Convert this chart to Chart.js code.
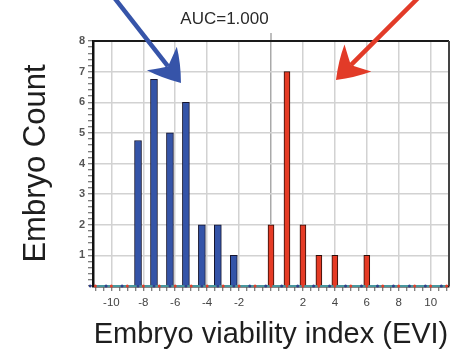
<!DOCTYPE html>
<html>
<head>
<meta charset="utf-8">
<script src="https://cdn.jsdelivr.net/npm/chart.js@4/dist/chart.umd.min.js"></script>
<style>
  html, body { margin: 0; padding: 0; background: #ffffff; overflow: hidden; }
  #wrap { width: 458px; height: 356px; }
  canvas { display: block; }
</style>
</head>
<body>
<div id="wrap"><canvas id="c" width="458" height="356"></canvas></div>
<script>
// Histogram bins of the embryo viability index (EVI)
const eviBins = [-11, -10, -9, -8, -7, -6, -5, -4, -3, -2, -1, 0, 1, 2, 3, 4, 5, 6, 7, 8, 9, 10, 11];
// Non-viable embryos (blue) per bin
const blueCounts = [0, 0, 0, 4.75, 6.75, 5, 6, 2, 2, 1, 0, 0, 0, 0, 0, 0, 0, 0, 0, 0, 0, 0, 0];
// Viable embryos (red) per bin
const redCounts  = [0, 0, 0, 0, 0, 0, 0, 0, 0, 0, 0, 2, 7, 2, 1, 1, 0, 1, 0, 0, 0, 0, 0];
// Labelled ticks
const xTickLabels = [-10, -8, -6, -4, -2, 2, 4, 6, 8, 10];
const yTickLabels = [1, 2, 3, 4, 5, 6, 7, 8];
const aucText = 'AUC=1.000';

// Pointer arrows, in data units (EVI, count)
const pointerArrows = [
  { from: [-10.1, 9.6], to: [-5.64, 6.63], color: '#3654a9' },
  { from: [9.59, 9.6],  to: [4.07, 6.73],  color: '#e23b28' }
];

const X_MIN = -11.15, X_MAX = 11.15;
const BLUE_SHIFT = 0.33; // blue bars sit slightly left of each bin centre

const FONT = "'Liberation Sans', Arial, Helvetica, sans-serif";

const decorations = {
  id: 'decorations',
  beforeDatasetsDraw(chart) {
    const { ctx, chartArea: a, scales } = chart;
    // zero line pokes above the frame
    const x0 = scales.x.getPixelForValue(0);
    ctx.save();
    ctx.strokeStyle = '#a9a9a9';
    ctx.lineWidth = 1.5;
    ctx.beginPath();
    ctx.moveTo(x0, a.top - 8);
    ctx.lineTo(x0, a.top);
    ctx.stroke();
    ctx.restore();
  },
  afterDatasetsDraw(chart) {
    const { ctx, chartArea: a, scales } = chart;
    ctx.save();
    // top and right frame
    ctx.strokeStyle = '#1a1a1a';
    ctx.lineWidth = 2;
    ctx.beginPath();
    ctx.moveTo(a.left, a.top);
    ctx.lineTo(a.right, a.top);
    ctx.stroke();
    ctx.strokeStyle = '#444';
    ctx.beginPath();
    ctx.moveTo(a.right, a.top);
    ctx.lineTo(a.right, a.bottom);
    ctx.stroke();

    // arrows: shaft plus a broad swept-back head
    pointerArrows.forEach(ar => {
      const x1 = scales.x.getPixelForValue(ar.from[0]);
      const y1 = scales.y.getPixelForValue(ar.from[1]);
      const x2 = scales.x.getPixelForValue(ar.to[0]);
      const y2 = scales.y.getPixelForValue(ar.to[1]);
      const len = Math.hypot(x2 - x1, y2 - y1);
      const ux = (x2 - x1) / len, uy = (y2 - y1) / len;
      const px = -uy, py = ux;
      const headLen = 31, halfW = 19, notch = 21;
      const nx = x2 - ux * notch, ny = y2 - uy * notch;
      ctx.strokeStyle = ar.color;
      ctx.fillStyle = ar.color;
      ctx.lineWidth = 4.5;
      ctx.lineCap = 'butt';
      ctx.beginPath();
      ctx.moveTo(x1, y1);
      ctx.lineTo(nx, ny);
      ctx.stroke();
      const bx = x2 - ux * headLen, by = y2 - uy * headLen;
      const lx = bx + px * halfW, ly = by + py * halfW;
      const rx = bx - px * halfW, ry = by - py * halfW;
      // slightly convex flanks, gently concave back
      const fl = 0.5, bulge = 2.5;
      ctx.beginPath();
      ctx.moveTo(x2, y2);
      ctx.quadraticCurveTo(x2 + (lx - x2) * fl + px * bulge, y2 + (ly - y2) * fl + py * bulge, lx, ly);
      ctx.quadraticCurveTo(nx - ux * 3 + px * 6, ny - uy * 3 + py * 6, nx, ny);
      ctx.quadraticCurveTo(nx - ux * 3 - px * 6, ny - uy * 3 - py * 6, rx, ry);
      ctx.quadraticCurveTo(x2 + (rx - x2) * fl - px * bulge, y2 + (ry - y2) * fl - py * bulge, x2, y2);
      ctx.closePath();
      ctx.fill();
    });
    ctx.restore();
  }
};

const xTicksEveryHalf = scale => {
  const t = [];
  for (let i = -22; i <= 22; i++) t.push({ value: i / 2 });
  scale.ticks = t;
};
const yTicksEveryFifth = scale => {
  const t = [];
  for (let i = 0; i <= 40; i++) t.push({ value: Math.round(i * 2) / 10 });
  scale.ticks = t;
};

new Chart(document.getElementById('c'), {
  type: 'bar',
  data: {
    datasets: [
      {
        label: 'Non-viable',
        data: eviBins.map((b, i) => ({ x: b, y: blueCounts[i] })),
        xAxisID: 'xBlue',
        backgroundColor: '#3454a8',
        borderColor: '#14142e',
        borderWidth: 1,
        barThickness: 7,
        grouped: false,
        order: 1
      },
      {
        label: 'Viable',
        data: eviBins.map((b, i) => ({ x: b, y: redCounts[i] })),
        xAxisID: 'x',
        backgroundColor: '#e53b25',
        borderColor: '#2a0e0a',
        borderWidth: 1,
        barThickness: 6,
        grouped: false,
        order: 1
      },
      {
        type: 'line',
        label: 'baseline',
        data: eviBins.map(b => ({ x: b, y: 0 })),
        xAxisID: 'x',
        borderColor: '#5cc6cf',
        borderWidth: 1.5,
        pointRadius: 1.5,
        pointBackgroundColor: '#e0402c',
        pointBorderWidth: 0,
        clip: 4,
        order: 3
      },
      {
        type: 'line',
        label: 'baseline blue',
        data: eviBins.map(b => ({ x: b, y: 0 })),
        xAxisID: 'xBlue',
        showLine: false,
        pointRadius: 1.5,
        pointBackgroundColor: '#2f3f8a',
        pointBorderWidth: 0,
        clip: 4,
        order: 2
      }
    ]
  },
  options: {
    responsive: false,
    animation: false,
    devicePixelRatio: 1,
    layout: { padding: { top: 0, right: 9, bottom: 0, left: 0 } },
    plugins: {
      legend: { display: false },
      tooltip: { enabled: false },
      title: {
        display: true,
        text: aucText,
        color: '#2a2a2a',
        font: { family: FONT, size: 17, weight: 'normal', lineHeight: 1.2 },
        padding: { top: 9, bottom: 11.6 }
      }
    },
    scales: {
      x: {
        type: 'linear',
        position: 'bottom',
        min: X_MIN,
        max: X_MAX,
        offset: false,
        afterBuildTicks: xTicksEveryHalf,
        afterFit: s => { s.height = 70; },
        border: { display: true, color: '#111', width: 2.5 },
        grid: {
          offset: false,
          lineWidth: 1.5,
          color: c => {
            const v = c.tick ? c.tick.value : null;
            if (v === 0) return '#a9a9a9';
            return xTickLabels.includes(v) ? '#d2d2d2' : 'rgba(0,0,0,0)';
          },
          drawTicks: true,
          tickLength: 5,
          tickWidth: 1,
          tickColor: '#555'
        },
        ticks: {
          autoSkip: false,
          maxRotation: 0,
          padding: 5,
          color: '#444',
          font: { family: FONT, size: 11.5 },
          callback: v => (xTickLabels.includes(v) ? String(v) : '')
        },
        title: {
          display: true,
          text: 'Embryo viability index (EVI)',
          color: '#1e1e1e',
          font: { family: FONT, size: 29, lineHeight: 1 },
          padding: { top: 0, bottom: 6.5 }
        }
      },
      xBlue: {
        type: 'linear',
        display: false,
        min: X_MIN + BLUE_SHIFT,
        max: X_MAX + BLUE_SHIFT,
        offset: false,
        grid: { display: false }
      },
      y: {
        type: 'linear',
        min: 0,
        max: 8,
        afterBuildTicks: yTicksEveryFifth,
        afterFit: s => { s.width = 93; },
        border: { display: true, color: '#111', width: 2.5 },
        grid: {
          lineWidth: 1.5,
          color: c => {
            const v = c.tick ? c.tick.value : null;
            return (Number.isInteger(v) && v > 0 && v < 8) ? '#d2d2d2' : 'rgba(0,0,0,0)';
          },
          drawTicks: true,
          tickLength: 5,
          tickWidth: 1,
          tickColor: '#555'
        },
        ticks: {
          autoSkip: false,
          padding: 3,
          color: '#555',
          font: { family: FONT, size: 11, weight: 'bold' },
          callback: v => (yTickLabels.includes(v) ? String(v) : '')
        },
        title: {
          display: true,
          text: 'Embryo Count',
          color: '#1e1e1e',
          font: { family: FONT, size: 31, lineHeight: 1 },
          padding: { top: 20.5, bottom: 0 }
        }
      }
    }
  },
  plugins: [decorations]
});
</script>
</body>
</html>
